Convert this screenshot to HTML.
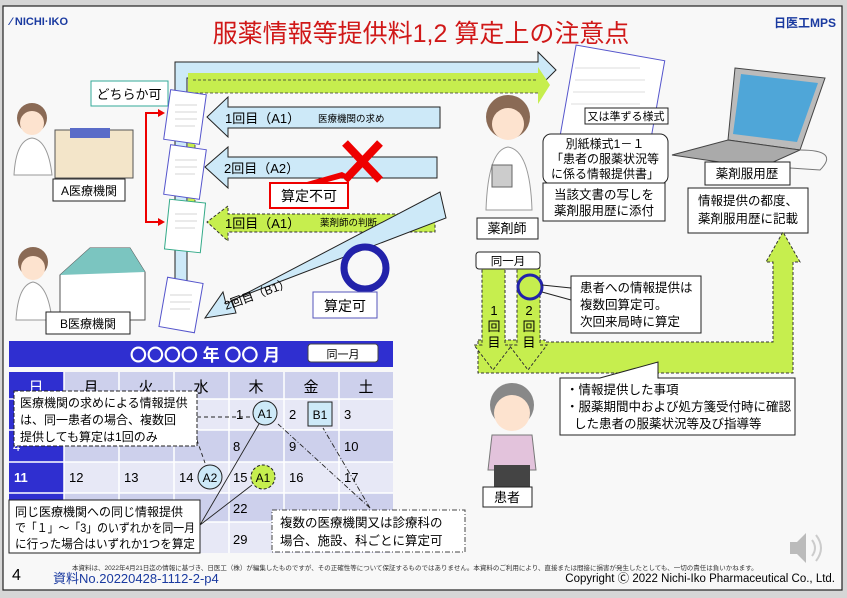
<!DOCTYPE html>
<html><head><meta charset="utf-8"><style>
body{margin:0;background:#d6d6d6;width:847px;height:598px;overflow:hidden}
svg{display:block;font-family:"Liberation Sans","Noto Sans CJK JP",sans-serif}
</style></head><body>
<svg width="847" height="598" viewBox="0 0 847 598" xmlns="http://www.w3.org/2000/svg">
<rect x="3" y="6" width="839" height="584" fill="#f8f8f8" stroke="#222" stroke-width="1.2"/>
<text x="10" y="25" font-size="11" fill="#1a3aa0" font-weight="bold">⁄ NICHI·IKO</text>
<text x="836" y="27" font-size="12" fill="#1a3aa0" font-weight="bold" text-anchor="end">日医工MPS</text>
<text x="421" y="42" font-size="25" fill="#d01818" text-anchor="middle">服薬情報等提供料1,2 算定上の注意点</text>

<path d="M175,62 H538 V52 L556,70 L538,88 V78 H187 V300 H175 Z" fill="#cde9f8" stroke="#222" stroke-width="1"/>
<path d="M188,73 H538 V67 L550,85 L538,104 V93 H195 V220 H188 Z" fill="#c6ee4e" stroke="none"/>
<path d="M193,80 H538 M538,93 H195 V220" fill="none" stroke="#333" stroke-dasharray="3,2" stroke-width="0.8"/>

<path d="M440,107 H228 V97 L207,117 L228,137 V128 H440 Z" fill="#cde9f8" stroke="#222"/>
<text x="225" y="123" font-size="13">1回目（A1）</text>
<text x="318" y="122" font-size="9.5">医療機関の求め</text>
<path d="M437,157 H228 V147 L205,167 L228,188 V178 H437 Z" fill="#cde9f8" stroke="#222"/>
<text x="224" y="173" font-size="13">2回目（A2）</text>
<path d="M435,214 H228 V206 L207,222 L228,241 V232 H435 Z" fill="#c6ee4e" stroke="#333" stroke-dasharray="3,2"/>
<text x="225" y="228" font-size="13">1回目（A1）</text>
<text x="320" y="226" font-size="9.5">薬剤師の判断</text>
<path d="M440,192 L446,218 L232,300 L236,313 L205,318 L223,292 L226,304 Z" fill="#cde9f8" stroke="#222"/>
<text x="226" y="310" font-size="12" transform="rotate(-20 226 310)">2回目（B1）</text>

<path d="M345,143 L380,180 M380,143 L345,180" stroke="#e00" stroke-width="8"/>
<path d="M300,184 L342,172 L350,176 L320,184 Z" fill="#e00"/>
<rect x="270" y="183" width="78" height="25" fill="#fff" stroke="#e00" stroke-width="2"/>
<text x="309" y="201" font-size="14" text-anchor="middle">算定不可</text>
<circle cx="365" cy="268" r="21" fill="none" stroke="#2222aa" stroke-width="7"/>
<rect x="313" y="292" width="64" height="26" fill="#fff" stroke="#5555bb"/>
<text x="345" y="311" font-size="14" text-anchor="middle">算定可</text>

<rect x="91" y="81" width="77" height="25" fill="#fff" stroke="#3a9"/>
<text x="129" y="99" font-size="13" text-anchor="middle">どちらか可</text>
<path d="M160,113 H146 V222 H160" fill="none" stroke="#e00" stroke-width="2"/>
<path d="M158,109 L165,113 L158,117 Z M158,218 L165,222 L158,226 Z" fill="#e00"/>

<g fill="#fff" stroke-width="1">
<rect x="167" y="92" width="36" height="50" stroke="#55c" transform="rotate(8 185 117)"/>
<rect x="167" y="147" width="36" height="50" stroke="#55c" transform="rotate(8 185 172)"/>
<rect x="167" y="201" width="36" height="50" stroke="#3a8" transform="rotate(6 185 226)"/>
<rect x="163" y="280" width="36" height="50" stroke="#55c" transform="rotate(10 181 305)"/>
</g>
<g stroke="#aaa" stroke-width="0.6">
<path d="M175,105 H197 M175,112 H197 M175,119 H197 M175,126 H195 M175,160 H197 M175,167 H197 M175,174 H195 M175,214 H197 M175,221 H197 M175,228 H195 M170,295 H192 M170,302 H192 M170,309 H190"/>
</g>

<circle cx="32" cy="118" r="15" fill="#8a6a55"/><circle cx="32" cy="123" r="12" fill="#fde3cf"/>
<path d="M14,175 Q16,140 32,138 Q48,140 52,175 Z" fill="#fff" stroke="#999"/>
<rect x="55" y="130" width="78" height="48" fill="#f3e5c9" stroke="#555"/>
<rect x="70" y="128" width="40" height="10" fill="#5a6cc8"/>
<rect x="53" y="179" width="72" height="22" fill="#fff" stroke="#222"/>
<text x="89" y="195" font-size="12" text-anchor="middle">A医療機関</text>
<circle cx="33" cy="262" r="15" fill="#8a6a55"/><circle cx="33" cy="268" r="12" fill="#fde3cf"/>
<path d="M16,320 Q18,285 33,282 Q48,285 52,320 Z" fill="#fff" stroke="#999"/>
<path d="M60,275 L90,248 L130,248 L145,272 V320 H60 Z" fill="#fff" stroke="#555"/>
<path d="M60,275 L90,248 L130,248 L145,272 Z" fill="#7bc5c0"/>
<rect x="46" y="312" width="84" height="22" fill="#fff" stroke="#222"/>
<text x="88" y="328" font-size="12" text-anchor="middle">B医療機関</text>

<rect x="9" y="341" width="384" height="26" fill="#2f2fd0"/>
<text x="205" y="361" font-size="17" fill="#fff" text-anchor="middle" font-weight="bold">〇〇〇〇 年 〇〇 月</text>
<rect x="308" y="344" width="70" height="18" rx="3" fill="#fff" stroke="#444"/>
<text x="343" y="358" font-size="11" text-anchor="middle">同一月</text>
<g>
<rect x="9" y="372" width="384" height="27" fill="#cdd0ec"/>
<rect x="9" y="399" width="384" height="31" fill="#e7e8f6"/>
<rect x="9" y="430" width="384" height="32" fill="#cdd0ec"/>
<rect x="9" y="462" width="384" height="31" fill="#e7e8f6"/>
<rect x="9" y="493" width="384" height="29" fill="#cdd0ec"/>
<rect x="9" y="522" width="384" height="31" fill="#e7e8f6"/>
<rect x="9" y="372" width="55" height="181" fill="#2f2fd0"/>
<path d="M64,372 V553 M119,372 V553 M174,372 V553 M229,372 V553 M284,372 V553 M339,372 V553 M9,399 H393 M9,430 H393 M9,462 H393 M9,493 H393 M9,522 H393" stroke="#fff" stroke-width="1.5"/>
</g>
<g font-size="15" text-anchor="middle">
<text x="36" y="392" fill="#fff">日</text><text x="91" y="392">月</text><text x="146" y="392">火</text><text x="201" y="392">水</text><text x="256" y="392">木</text><text x="311" y="392">金</text><text x="366" y="392">土</text>
</g>
<g font-size="13">
<text x="236" y="419">1</text><text x="289" y="419">2</text><text x="344" y="419">3</text>
<text x="13" y="451" fill="#fff">4</text><text x="233" y="451">8</text><text x="289" y="451">9</text><text x="344" y="451">10</text>
<text x="14" y="482" fill="#fff" font-weight="bold">11</text><text x="69" y="482">12</text><text x="124" y="482">13</text><text x="179" y="482">14</text><text x="233" y="482">15</text><text x="289" y="482">16</text><text x="344" y="482">17</text>
<text x="233" y="513">22</text><text x="233" y="544">29</text>
</g>
<circle cx="265" cy="413" r="12" fill="#cde9f8" stroke="#222"/><text x="265" y="418" font-size="12" text-anchor="middle">A1</text>
<rect x="308" y="402" width="24" height="24" fill="#cde9f8" stroke="#222"/><text x="320" y="419" font-size="12" text-anchor="middle">B1</text>
<circle cx="210" cy="477" r="12" fill="#cde9f8" stroke="#222"/><text x="210" y="482" font-size="12" text-anchor="middle">A2</text>
<circle cx="263" cy="477" r="12" fill="#c6ee4e" stroke="#222" stroke-dasharray="3,2"/><text x="263" y="482" font-size="12" text-anchor="middle">A1</text>
<g stroke="#222" fill="none" stroke-width="0.9">
<path d="M197,417 H250" stroke-dasharray="4,3"/>
<path d="M190,420 L205,463" stroke-dasharray="4,3"/>
<path d="M200,525 L259,424 M200,525 L252,485"/>
<path d="M370,508 L278,424 M370,508 L323,428" stroke-dasharray="5,2,1,2"/>
</g>
<rect x="14" y="391" width="183" height="55" fill="#fff" stroke="#222" stroke-dasharray="4,2"/>
<text font-size="12"><tspan x="20" y="407">医療機関の求めによる情報提供</tspan><tspan x="20" y="424">は、同一患者の場合、複数回</tspan><tspan x="20" y="441">提供しても算定は1回のみ</tspan></text>
<rect x="9" y="500" width="191" height="53" fill="#fff" stroke="#222"/>
<text font-size="12" x="15" y="516" textLength="168" lengthAdjust="spacingAndGlyphs">同じ医療機関への同じ情報提供</text>
<text font-size="12" x="15" y="532" textLength="180" lengthAdjust="spacingAndGlyphs">で「１」～「3」のいずれかを同一月</text>
<text font-size="12" x="15" y="548" textLength="180" lengthAdjust="spacingAndGlyphs">に行った場合はいずれか1つを算定</text>
<rect x="272" y="510" width="193" height="42" fill="#fff" stroke="#444" stroke-dasharray="5,2,1,2"/>
<text font-size="12.5"><tspan x="280" y="527">複数の医療機関又は診療科の</tspan><tspan x="280" y="545">場合、施設、科ごとに算定可</tspan></text>

<rect x="565" y="52" width="90" height="120" fill="#fff" stroke="#55c" transform="rotate(10 610 112)"/>
<g stroke="#bbb" stroke-width="0.6"><path d="M575,68 H640 M575,80 H645 M573,92 H645 M571,104 H640"/></g>
<circle cx="508" cy="117" r="22" fill="#8a6a55"/><circle cx="508" cy="124" r="16" fill="#fde3cf"/>
<path d="M486,210 Q488,150 508,147 Q530,150 532,210 Z" fill="#fff" stroke="#999"/>
<rect x="492" y="165" width="20" height="22" fill="#ccc" stroke="#666"/>
<rect x="477" y="218" width="61" height="21" fill="#fff" stroke="#222"/>
<text x="507" y="233" font-size="13" text-anchor="middle">薬剤師</text>
<rect x="585" y="108" width="83" height="16" fill="#fff" stroke="#222"/>
<text x="626" y="120" font-size="11" text-anchor="middle">又は準ずる様式</text>
<rect x="543" y="134" width="125" height="50" rx="8" fill="#fff" stroke="#222"/>
<text font-size="12" text-anchor="middle"><tspan x="605" y="148">別紙様式1－１</tspan><tspan x="605" y="163">「患者の服薬状況等</tspan><tspan x="605" y="178">に係る情報提供書」</tspan></text>
<rect x="543" y="183" width="122" height="38" fill="#fff" stroke="#222"/>
<text font-size="12.5" text-anchor="middle"><tspan x="604" y="199">当該文書の写しを</tspan><tspan x="604" y="215">薬剤服用歴に添付</tspan></text>
<path d="M735,68 L825,78 L800,150 L728,140 Z" fill="#bbb" stroke="#444"/>
<path d="M741,74 L818,83 L797,142 L733,134 Z" fill="#4fa6d8"/>
<path d="M728,140 L800,150 L760,168 L672,155 Z" fill="#aaa" stroke="#444"/>
<path d="M800,150 Q840,150 820,170 L790,168" fill="none" stroke="#777"/>
<rect x="705" y="162" width="85" height="23" fill="#fff" stroke="#222"/>
<text x="747" y="178" font-size="12.5" text-anchor="middle">薬剤服用歴</text>
<rect x="688" y="188" width="120" height="45" fill="#fff" stroke="#222"/>
<text font-size="12.5" text-anchor="middle"><tspan x="748" y="205">情報提供の都度、</tspan><tspan x="748" y="223">薬剤服用歴に記載</tspan></text>

<path d="M478,340 H545 V342 H773 V262 H766 L783,232 L800,262 H793 V373 H478 Z" fill="#c6ee4e" stroke="#333" stroke-dasharray="3,2"/>
<path d="M482,268 H505 V345 H512 L493,370 L474,345 H482 Z" fill="#c6ee4e" stroke="#333" stroke-dasharray="3,2"/>
<path d="M517,268 H540 V345 H547 L528,370 L509,345 H517 Z" fill="#c6ee4e" stroke="#333" stroke-dasharray="3,2"/>
<rect x="476" y="252" width="64" height="17" rx="3" fill="#fff" stroke="#222"/>
<text x="508" y="265" font-size="11.5" text-anchor="middle">同一月</text>
<text font-size="13" text-anchor="middle"><tspan x="494" y="315">1</tspan><tspan x="494" y="331">回</tspan><tspan x="494" y="347">目</tspan><tspan x="529" y="315">2</tspan><tspan x="529" y="331">回</tspan><tspan x="529" y="347">目</tspan></text>
<circle cx="530" cy="287" r="12" fill="#c6ee4e" stroke="#2222aa" stroke-width="3"/>
<path d="M542,285 L571,288 M542,292 L571,300" stroke="#222"/>
<rect x="571" y="276" width="130" height="57" fill="#fff" stroke="#222"/>
<text font-size="12.5"><tspan x="580" y="292">患者への情報提供は</tspan><tspan x="580" y="309">複数回算定可。</tspan><tspan x="580" y="326">次回来局時に算定</tspan></text>
<path d="M560,378 V435 H795 V378 H658 V362 L600,378 Z" fill="#fff" stroke="#222"/>
<text font-size="12.5"><tspan x="566" y="394">・情報提供した事項</tspan><tspan x="566" y="411">・服薬期間中および処方箋受付時に確認</tspan><tspan x="574" y="428">した患者の服薬状況等及び指導等</tspan></text>
<circle cx="512" cy="405" r="22" fill="#888"/><circle cx="512" cy="413" r="18" fill="#fde3cf"/>
<path d="M492,435 H532 L536,470 H488 Z" fill="#e3c3dc" stroke="#777"/>
<rect x="494" y="465" width="36" height="22" fill="#444"/>
<rect x="483" y="487" width="49" height="20" fill="#fff" stroke="#222"/>
<text x="507" y="502" font-size="13" text-anchor="middle">患者</text>
<path d="M790,542 H797 L806,533 V563 L797,554 H790 Z" fill="#bbb"/>
<path d="M812,540 Q818,548 812,556 M816,535 Q826,548 816,561" stroke="#ccc" fill="none" stroke-width="2"/>

<text x="12" y="580" font-size="16">4</text>
<text x="53" y="583" font-size="13" fill="#1a3aa0">資料No.20220428-1112-2-p4</text>
<text x="72" y="570" font-size="6.5" fill="#333">本資料は、2022年4月21日迄の情報に基づき、日医工（株）が編集したものですが、その正確性等について保証するものではありません。本資料のご利用により、直接または間接に損害が発生したとしても、一切の責任は負いかねます。</text>
<text x="835" y="582" font-size="11.5" text-anchor="end">Copyright Ⓒ 2022 Nichi-Iko Pharmaceutical Co., Ltd.</text>
</svg>
</body></html>
